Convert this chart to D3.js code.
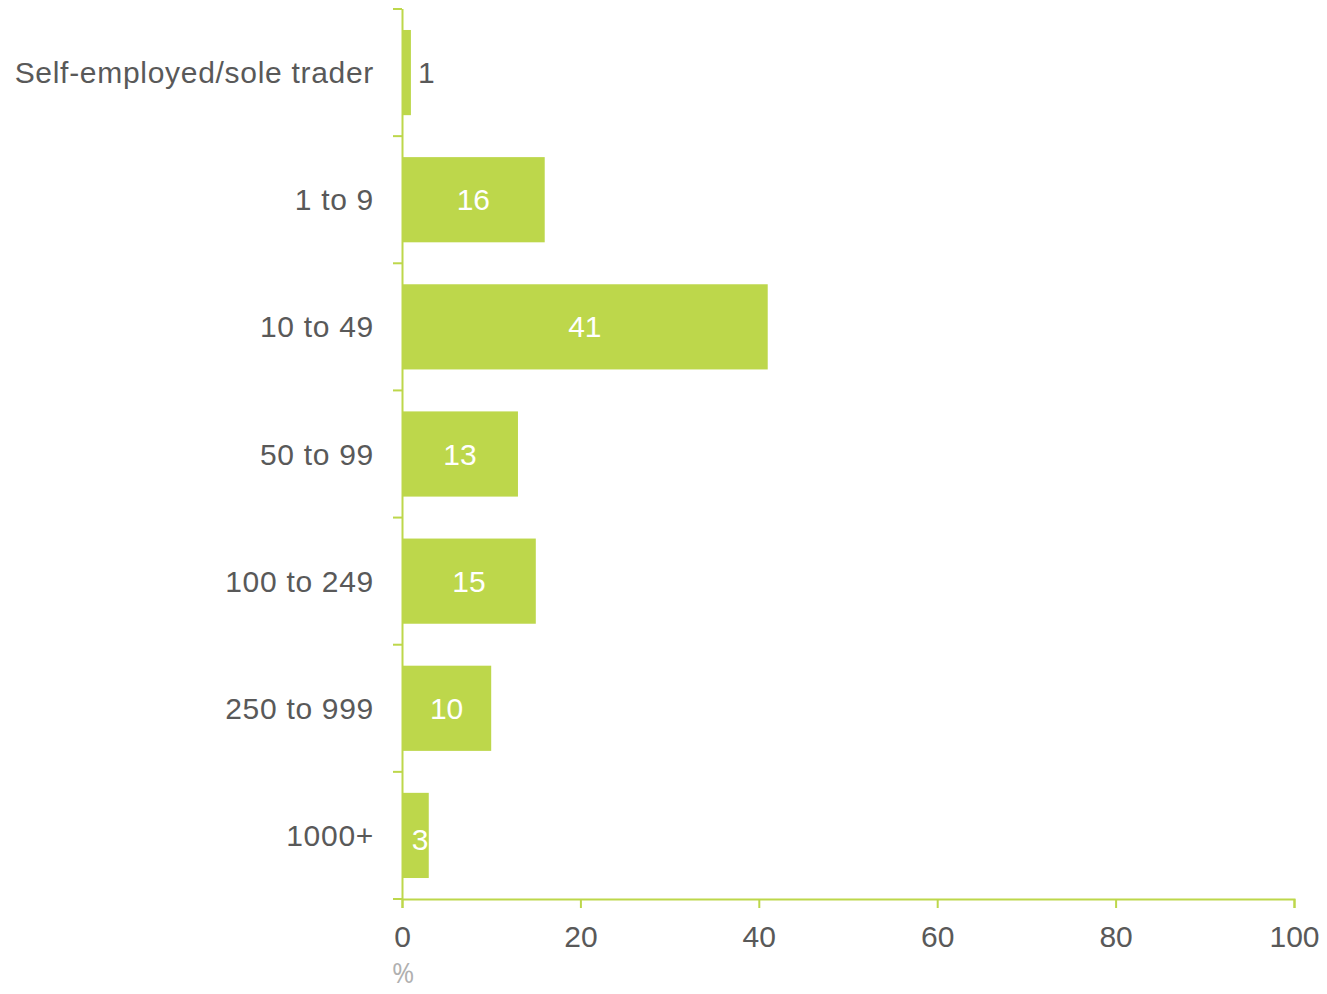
<!DOCTYPE html>
<html>
<head>
<meta charset="utf-8">
<script src="https://cdn.jsdelivr.net/npm/d3@7"></script>
<style>
  body { margin: 0; background: #fff; }
  svg text { font-family: "Liberation Sans", Arial, sans-serif; }
</style>
</head>
<body>
<div id="chart"></div>
<script>
const categories = ['Self-employed/sole trader', '1 to 9', '10 to 49', '50 to 99', '100 to 249', '250 to 999', '1000+'];
const values = [1, 16, 41, 13, 15, 10, 3];
const xTicks = [0, 20, 40, 60, 80, 100];
const unitLabel = '%';

const margin = { top: 9, right: 33, bottom: 95, left: 402 };
const W = 1327, H = 994;
const width = W - margin.left - margin.right;
const height = H - margin.top - margin.bottom;

const green = '#bdd74b';
const textColor = '#595959';
const fontSize = '30px';

const data = categories.map((c, i) => ({ cat: c, value: values[i] }));

const x = d3.scaleLinear().domain([0, 100]).range([0, width]);
const y = d3.scaleBand().domain(categories).range([0, height])
  .paddingInner(0.33).paddingOuter(0.165);

const svg = d3.select('#chart').append('svg')
  .attr('width', W).attr('height', H);
const g = svg.append('g').attr('transform', `translate(${margin.left}, ${margin.top})`);

// bars
g.selectAll('.bar')
  .data(data)
  .enter().append('rect')
  .attr('class', 'bar')
  .attr('x', x(0))
  .attr('y', d => y(d.cat))
  .attr('width', d => x(d.value) - x(0))
  .attr('height', y.bandwidth())
  .attr('fill', green);

// value labels: inside (white) unless bar too narrow
g.selectAll('.val')
  .data(data)
  .enter().append('text')
  .attr('class', 'val')
  .attr('x', d => d.value < 2 ? x(d.value) + 7 : Math.max((x(0) + x(d.value)) / 2, x(0) + 18))
  .attr('y', d => y(d.cat) + y.bandwidth() / 2 + (d.value < 5 && d.value >= 2 ? 4 : 0))
  .attr('dy', '0.35em')
  .attr('text-anchor', d => d.value < 2 ? 'start' : 'middle')
  .attr('fill', d => d.value < 2 ? textColor : '#fff')
  .style('font-size', fontSize)
  .text(d => d.value);

// y axis: line + ticks at band boundaries
const step = y.step();
const bounds = categories.map(c => y(c) - y.paddingInner() * step / 2);
bounds.push(height);
g.append('line')
  .attr('x1', 0.5).attr('x2', 0.5)
  .attr('y1', 0).attr('y2', height)
  .attr('stroke', green).attr('stroke-width', 2);
g.selectAll('.ytick')
  .data(bounds)
  .enter().append('line')
  .attr('class', 'ytick')
  .attr('x1', -9).attr('x2', 0)
  .attr('y1', d => d).attr('y2', d => d)
  .attr('stroke', green).attr('stroke-width', 2);

// category labels
g.selectAll('.cat')
  .data(categories)
  .enter().append('text')
  .attr('class', 'cat')
  .attr('x', -28)
  .attr('y', d => y(d) + y.bandwidth() / 2)
  .attr('dy', '0.35em')
  .attr('text-anchor', 'end')
  .attr('fill', textColor)
  .style('font-size', fontSize)
  .style('letter-spacing', '0.7px')
  .text(d => d);

// x axis
const xAxis = d3.axisBottom(x).tickValues(xTicks).tickSize(9).tickPadding(18).tickSizeOuter(9);
const xg = g.append('g')
  .attr('transform', `translate(0, ${height})`)
  .call(xAxis);
xg.select('.domain').attr('stroke', green).attr('stroke-width', 2);
xg.selectAll('.tick line').attr('stroke', green).attr('stroke-width', 2);
xg.selectAll('.tick text')
  .attr('fill', textColor)
  .style('font-size', fontSize)
  .style('font-family', '"Liberation Sans", Arial, sans-serif');

// unit label
g.append('text')
  .attr('x', -10)
  .attr('y', height + 84)
  .attr('fill', '#b0b0b0')
  .style('font-size', '27px')
  .style('font-family', '"Open Sans", sans-serif')
  .text(unitLabel);
</script>
</body>
</html>
